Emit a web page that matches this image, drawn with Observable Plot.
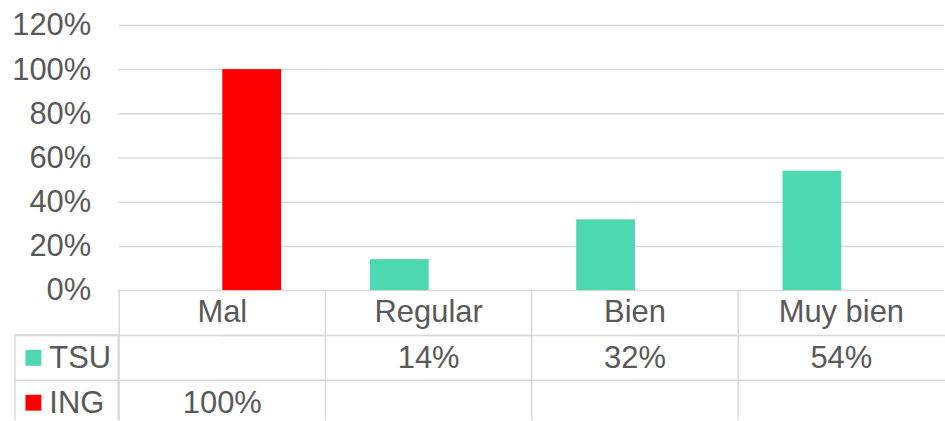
<!DOCTYPE html>
<html><head><meta charset="utf-8">
<script src="https://cdn.jsdelivr.net/npm/d3@7"></script>
<script src="https://cdn.jsdelivr.net/npm/@observablehq/plot@0.6"></script>
<style>
html,body{margin:0;padding:0;background:#fff;overflow:hidden;}
</style></head><body><div id="chart"></div>
<script>
const categories = ["Mal", "Regular", "Bien", "Muy bien"];
const seriesNames = ["TSU", "ING"];
const tsuValues = [null, 0.14, 0.32, 0.54];
const ingValues = [1.00, null, null, null];
const yTicks = [0, 0.2, 0.4, 0.6, 0.8, 1.0, 1.2];
const seriesColors = ["#4dd8b1", "#ff0000"];

const valuesBySeries = [tsuValues, ingValues];
const rows = [];
seriesNames.forEach((s, i) => valuesBySeries[i].forEach((v, j) => {
  if (v != null) rows.push({category: categories[j], series: s, value: v});
}));

const W = 948, H = 421, ML = 118, MT = 25, MB = 130;
const colW = (W - ML) / categories.length;
const barW = 60;
const rowH = 45;
const legendW = 104;
const gridColor = "#d9d9d9", textColor = "#595959", fontSize = 31;
const pct = d3.format(".0%");
const frameH = H - MB - MT;

const marks = [
  Plot.gridY(yTicks, {stroke: gridColor, strokeOpacity: 1, strokeWidth: 1.5}),
  Plot.axisY(yTicks, {tickSize: 0, tickPadding: 28, tickFormat: pct, fontSize, color: textColor, label: null}),
  Plot.barY(rows, {fx: "category", x: "series", y: "value", fill: "series"}),
  Plot.axisFx({anchor: "bottom", tickSize: 0, tickPadding: 10, fontSize, color: textColor, label: null}),
  Plot.frame({anchor: "left", insetTop: frameH, insetBottom: -MB, stroke: gridColor, strokeWidth: 1.5}),
  Plot.rect([categories[0]], {fx: d => d, insetLeft: -legendW, insetRight: colW, insetTop: frameH + rowH, insetBottom: -(rowH * 3), fill: "none", stroke: gridColor, strokeWidth: 1.5})
];
seriesNames.forEach((s, i) => {
  const dy = rowH * (i + 1.5);
  marks.push(
    Plot.frame({anchor: "bottom", insetBottom: -rowH * (i + 1), insetLeft: -legendW, stroke: gridColor, strokeWidth: 1.5}),
    Plot.text(rows.filter(r => r.series === s), {fx: "category", text: d => pct(d.value), frameAnchor: "bottom", lineAnchor: "middle", dy, fontSize, fill: textColor}),
    Plot.text([s], {fx: () => categories[0], text: d => d, frameAnchor: "bottom-left", textAnchor: "start", lineAnchor: "middle", dx: -70, dy, fontSize, fill: textColor}),
    Plot.dot([s], {fx: () => categories[0], frameAnchor: "bottom-left", dx: -86, dy, symbol: "square", r: 9, fill: d => d})
  );
});

const chart = Plot.plot({
  width: W, height: H,
  marginLeft: ML, marginRight: 0, marginTop: MT, marginBottom: MB,
  style: {fontFamily: "'Liberation Sans', Arial, sans-serif", fontSize: fontSize + "px", color: textColor, overflow: "visible", background: "#fff"},
  fx: {domain: categories, padding: 0},
  x: {domain: seriesNames, paddingInner: 0, paddingOuter: (colW / barW - 2) / 2, axis: null},
  y: {domain: [0, 1.2]},
  color: {domain: seriesNames, range: seriesColors},
  marks
});
document.getElementById("chart").appendChild(chart);
</script>
</body></html>
